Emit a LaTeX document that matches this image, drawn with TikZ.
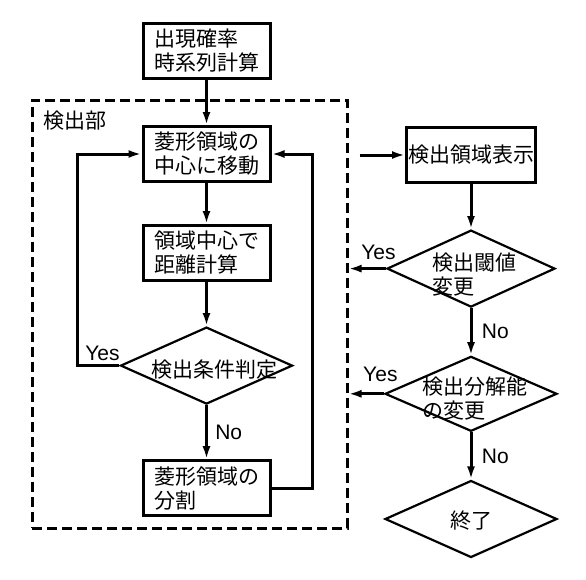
\documentclass[tikz,border=0pt]{standalone}
\usepackage{fontspec}
\setmainfont{Liberation Sans}
\newfontfamily\jpfont{Noto Sans CJK JP}
\usepackage{tikz}
\usetikzlibrary{positioning}
\usetikzlibrary{shapes.geometric}
\usetikzlibrary{arrows.meta}

\begin{document}
\begin{tikzpicture}[
x=1pt, y=1pt,
font=\fontsize{21pt}{24pt}\selectfont,
jptext/.style={font=\jpfont\fontsize{21pt}{24pt}\selectfont},
stepnode/.style={rectangle, draw, line width=3pt, minimum width=127pt, minimum height=55pt, text width=105pt, align=left, inner sep=0pt, jptext},
decisionnode/.style={diamond, draw, line width=2.2pt, minimum width=172pt, minimum height=77pt, inner sep=0pt},
framenode/.style={rectangle, draw, line width=3pt, dash pattern=on 10pt off 5pt, minimum width=315pt, minimum height=428pt},
arrow/.style={-{Latex[length=13pt,width=8pt]}, line width=3pt},
]
\useasboundingbox (0,0) rectangle (586,-579);

%Nodes
\node[framenode] (part) at (189.5,-314) {};
\node[jptext, anchor=north west, inner sep=0pt] (partname) at ([xshift=13pt,yshift=-12pt]part.north west) {検出部};

\node[stepnode] (calc) at (206.5,-51) {出現確率\\時系列計算};
\node[stepnode] (move)  [below=45pt of calc] {菱形領域の\\中心に移動};
\node[stepnode] (dist)  [below=41pt of move] {領域中心で\\距離計算};
\node[decisionnode] (judge) [below=44pt of dist, label={[jptext, xshift=8pt, yshift=-4pt]center:検出条件判定}] {};
\node[stepnode] (split) [below=54pt of judge] {菱形領域の\\分割};

\node[stepnode, minimum width=129pt, text width=126pt, align=center] (disp) at (471,-155) {検出領域表示};
\node[decisionnode, minimum width=168pt] (thr) [below=45pt of disp, label={[jptext, align=left, xshift=3pt, yshift=-6pt]center:{検出閾値\\変更}}] {};
\node[decisionnode, minimum height=75pt] (res) [below=47pt of thr, label={[jptext, align=left, xshift=4pt, yshift=-5pt]center:{検出分解能\\の変更}}] {};
\node[decisionnode] (end) [below=47pt of res, label={[jptext, yshift=-2pt]center:終了}] {};

\coordinate (loopL) at (77,0);
\coordinate (loopR) at (312,0);
\coordinate[right=11pt of part.east] (gapR);

%Lines
\draw[arrow] (calc.south) -- (move.north);
\draw[arrow] (move.south) -- (dist.north);
\draw[arrow] (dist.south) -- (judge.north);
\draw[arrow] (judge.south) -- node[right, xshift=4pt] {No} (split.north);
\draw[arrow] (judge.west) -- node[above, pos=0.4] {Yes} (judge.west -| loopL) |- (move.west);
\draw[arrow] (split.east) -- (split.east -| loopR) |- (move.east);

\draw[arrow] (gapR |- disp.west) -- (disp.west);
\draw[arrow] (disp.south) -- (thr.north);
\draw[arrow] (thr.west) -- node[above, pos=0.2, yshift=4pt] {Yes} (thr.west -| part.east);
\draw[arrow] (thr.south) -- node[right, xshift=6pt] {No} (res.north);
\draw[arrow] (res.west) -- node[above, pos=0.1, yshift=7pt] {Yes} (res.west -| part.east);
\draw[arrow] (res.south) -- node[right, xshift=6pt] {No} (end.north);
\end{tikzpicture}
\end{document}
